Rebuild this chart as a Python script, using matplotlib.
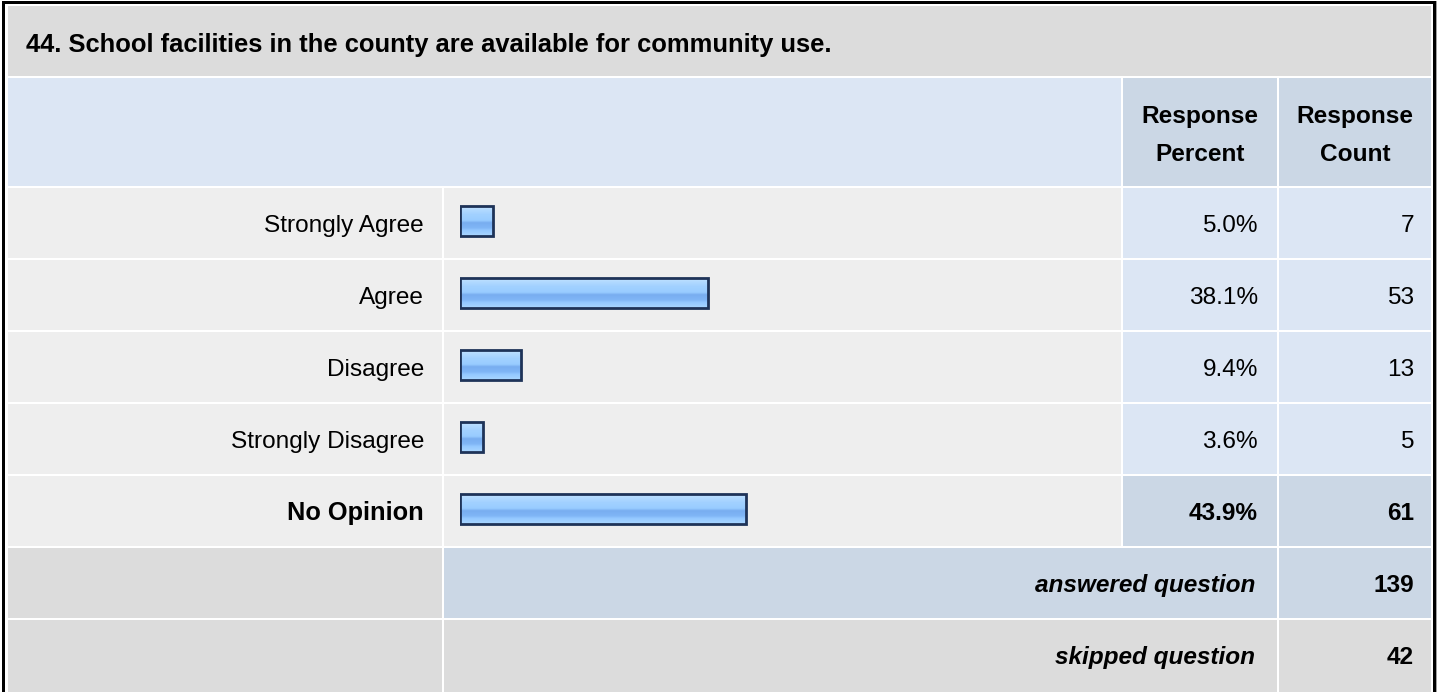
import numpy as np
import matplotlib
matplotlib.use('Agg')
import matplotlib.pyplot as plt
from matplotlib.patches import Rectangle
from matplotlib.colors import to_rgb

## data
title = '44. School facilities in the county are available for community use.'
categories = ['Strongly Agree', 'Agree', 'Disagree', 'Strongly Disagree', 'No Opinion']
percents = [5.0, 38.1, 9.4, 3.6, 43.9]
counts = [7, 53, 13, 5, 61]
header_pct = 'Response\nPercent'
header_cnt = 'Response\nCount'
answered = 139
skipped = 42

plt.rcParams['font.family'] = ['Liberation Sans', 'DejaVu Sans']
FS = 17.6

W, H = 1437, 692
fig = plt.figure(figsize=(W / 100, H / 100), dpi=100)
fig.patch.set_facecolor('white')

# pixel canvas for the table cells
ax = fig.add_axes([0, 0, 1, 1])
ax.set_xlim(0, W)
ax.set_ylim(H, 0)
ax.axis('off')

GRAY = '#dcdcdc'
ROWGRAY = '#eeeeee'
LBLUE = '#dce6f4'
DBLUE = '#cbd7e5'


def cell(x0, y0, x1, y1, color):
    ax.add_patch(Rectangle((x0, y0), x1 - x0, y1 - y0, facecolor=color,
                           edgecolor='none', zorder=1))


# column edges (px)
c_lab = (8, 442)
c_bar = (444, 1121)
c_pct = (1123, 1277)
c_cnt = (1279, 1431)
row0 = 188
pitch = 72
rh = 70

# outer frame
cell(2, 1, 1436, 4, 'black')
cell(2, 1, 5, H, 'black')
cell(1433, 1, 1436, H, 'black')
cell(1436, 1, 1437, H, '#a0a0a0')

# title row
cell(8, 6, 1431, 76, GRAY)
ax.text(26, 52, title, fontsize=18.4, fontweight='bold', ha='left',
        va='baseline', zorder=5)

# header row
cell(c_lab[0], 78, c_bar[1], 186, LBLUE)
cell(c_pct[0], 78, c_pct[1], 186, DBLUE)
cell(c_cnt[0], 78, c_cnt[1], 186, DBLUE)
for (a, b), txt in [(c_pct, header_pct), (c_cnt, header_cnt)]:
    l1, l2 = txt.split('\n')
    ax.text((a + b) / 2, 123, l1, fontsize=FS, fontweight='bold', ha='center',
            va='baseline', zorder=5)
    ax.text((a + b) / 2, 161, l2, fontsize=FS, fontweight='bold', ha='center',
            va='baseline', zorder=5)

# data rows
pmax = max(percents)
for i, (cat, p, n) in enumerate(zip(categories, percents, counts)):
    y0 = row0 + pitch * i
    y1 = y0 + rh
    yb = (y0 + y1) / 2 + 9
    top = p == pmax
    wt = 'bold' if top else 'normal'
    cell(c_lab[0], y0, c_lab[1], y1, ROWGRAY)
    cell(c_bar[0], y0, c_bar[1], y1, ROWGRAY)
    cell(c_pct[0], y0, c_pct[1], y1, DBLUE if top else LBLUE)
    cell(c_cnt[0], y0, c_cnt[1], y1, DBLUE if top else LBLUE)
    ax.text(424, yb, cat, fontsize=18.3 if top else FS, fontweight=wt, ha='right',
            va='baseline', zorder=5)
    ax.text(1258, yb, '%.1f%%' % p, fontsize=FS, fontweight=wt, ha='right',
            va='baseline', zorder=5)
    ax.text(1414, yb, str(n), fontsize=FS, fontweight=wt, ha='right',
            va='baseline', zorder=5)

# answered / skipped rows
ya = row0 + pitch * len(categories)
cell(c_lab[0], ya, c_lab[1], ya + rh, GRAY)
cell(c_bar[0], ya, c_pct[1], ya + rh, DBLUE)
cell(c_cnt[0], ya, c_cnt[1], ya + rh, DBLUE)
ax.text(1255, ya + rh / 2 + 9, 'answered question', fontsize=FS, fontweight='bold',
        fontstyle='italic', ha='right', va='baseline', zorder=5)
ax.text(1414, ya + rh / 2 + 9, str(answered), fontsize=FS, fontweight='bold',
        ha='right', va='baseline', zorder=5)

ys = ya + pitch
cell(c_lab[0], ys, c_lab[1], H, GRAY)
cell(c_bar[0], ys, c_pct[1], H, GRAY)
cell(c_cnt[0], ys, c_cnt[1], H, GRAY)
ax.text(1255, ys + rh / 2 + 9, 'skipped question', fontsize=FS, fontweight='bold',
        fontstyle='italic', ha='right', va='baseline', zorder=5)
ax.text(1414, ys + rh / 2 + 9, str(skipped), fontsize=FS, fontweight='bold',
        ha='right', va='baseline', zorder=5)

# bar axes: 100% = 652 px, one category per row
bx0, bw = 460, 652
by0, bh = 185, pitch * len(categories)
bax = fig.add_axes([bx0 / W, 1 - (by0 + bh) / H, bw / W, bh / H])
bax.patch.set_alpha(0)
bax.axis('off')

ypos = np.arange(len(categories))
bars = bax.barh(ypos, percents, height=0.42, left=0, facecolor='none',
                edgecolor='#1e3358', linewidth=2.0, zorder=3)

# glossy stripes inside each bar
stops = [(0.0, '#d4ecff'), (0.12, '#b6dcff'), (0.3, '#a2d1ff'), (0.5, '#98cbff'),
         (0.58, '#78adf0'), (0.74, '#80b6f6'), (0.82, '#94c8ff'), (1.0, '#aad7ff')]
t = np.linspace(0, 1, 64)
grad = np.zeros((64, 1, 3))
for k in range(3):
    grad[:, 0, k] = np.interp(t, [s[0] for s in stops], [to_rgb(s[1])[k] for s in stops])
for b in bars:
    x, y = b.get_x(), b.get_y()
    w, h = b.get_width(), b.get_height()
    im = bax.imshow(grad, extent=(x, x + w, y + h, y), aspect='auto',
                    interpolation='nearest', zorder=2)
    im.set_clip_path(b)

bax.set_xlim(0, 100)
bax.set_ylim(len(categories) - 0.5, -0.5)

fig.savefig('out.png', dpi=100, facecolor='white')
